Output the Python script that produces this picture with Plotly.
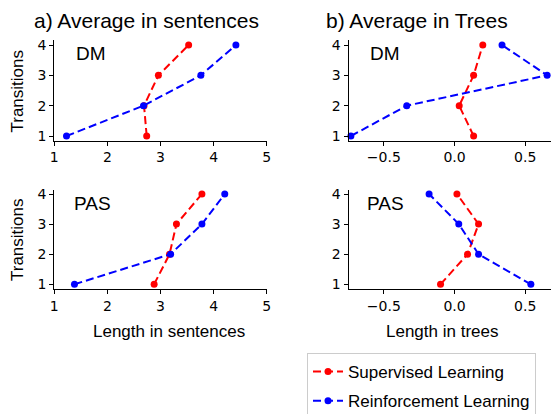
import plotly.graph_objects as go
from plotly.subplots import make_subplots

W, H = 559, 414
OFF = 8  # page body margin in the browser

transitions = [1, 2, 3, 4]
sent_dm_sup = [2.74, 2.69, 2.96, 3.53]
sent_dm_rl = [1.23, 2.68, 3.76, 4.42]
sent_pas_sup = [2.88, 3.17, 3.30, 3.78]
sent_pas_rl = [1.38, 3.19, 3.78, 4.21]
tree_dm_sup = [0.135, 0.033, 0.135, 0.20]
tree_dm_rl = [-0.733, -0.338, 0.655, 0.336]
tree_pas_sup = [-0.099, 0.092, 0.17, 0.017]
tree_pas_rl = [0.54, 0.17, 0.03, -0.18]

sent_ticks = [1, 2, 3, 4, 5]
sent_ticktext = ["1", "2", "3", "4", "5"]
tree_ticks = [-0.5, 0.0, 0.5]
tree_ticktext = ["\u22120.5", "0.0", "0.5"]
y_ticks = [1, 2, 3, 4]
y_ticktext = ["1", "2", "3", "4"]

series_names = ["Supervised Learning", "Reinforcement Learning"]
colors = ["#ff0000", "#0000ff"]

fig = make_subplots(rows=2, cols=2)

panels = [
    (1, 1, sent_dm_sup, sent_dm_rl),
    (1, 2, tree_dm_sup, tree_dm_rl),
    (2, 1, sent_pas_sup, sent_pas_rl),
    (2, 2, tree_pas_sup, tree_pas_rl),
]
first = True
for r, c, sup, rl in panels:
    for i, vals in enumerate([sup, rl]):
        fig.add_trace(go.Scatter(
            x=vals, y=transitions, mode="lines+markers",
            name=series_names[i], legendgroup=series_names[i],
            showlegend=first,
            line=dict(color=colors[i], width=2, dash="8px,4px"),
            marker=dict(color=colors[i], size=7),
            cliponaxis=False,
        ), row=r, col=c)
    first = False

def px_x(p):
    return (p - OFF) / W

def px_y(p):
    return 1 - (p - OFF) / H

xdom_a = [px_x(54.3), px_x(266.7)]
xdom_b = [px_x(348.5), px_x(559.5)]
ydom_top = [px_y(140.55), px_y(40.45)]
ydom_bot = [px_y(288.8), px_y(189.5)]

tickfont = dict(family="DejaVu Sans", size=14, color="black")
axis_common = dict(showline=True, linecolor="black", linewidth=1,
                   ticks="outside", ticklen=4, tickwidth=1, tickcolor="black",
                   showgrid=False, zeroline=False, tickfont=tickfont,
                   automargin=False)

for r, c in [(1, 1), (1, 2), (2, 1), (2, 2)]:
    xd = xdom_a if c == 1 else xdom_b
    yd = ydom_top if r == 1 else ydom_bot
    if c == 1:
        fig.update_xaxes(domain=xd, range=[1, 5], tickvals=sent_ticks,
                         ticktext=sent_ticktext, row=r, col=c, **axis_common)
    else:
        fig.update_xaxes(domain=xd, range=[-0.75, 0.7425], tickvals=tree_ticks,
                         ticktext=tree_ticktext, row=r, col=c, **axis_common)
    fig.update_yaxes(domain=yd, range=[0.85, 4.15], tickvals=y_ticks,
                     ticktext=y_ticktext, row=r, col=c, **axis_common)

txtfont = "Liberation Sans"
annotations = [
    dict(text="a) Average in sentences", x=px_x(146), y=px_y(20.5), size=21),
    dict(text="b) Average in Trees", x=px_x(417), y=px_y(20.5), size=21),
    dict(text="Length in sentences", x=px_x(168.5), y=px_y(331), size=17),
    dict(text="Length in trees", x=px_x(442), y=px_y(331), size=17),
]
ann = []
for a in annotations:
    ann.append(dict(text=a["text"], x=a["x"], y=a["y"], xref="paper", yref="paper",
                    xanchor="center", yanchor="middle", showarrow=False,
                    font=dict(family=txtfont, size=a["size"], color="black")))
for yc in [91.5, 240]:
    ann.append(dict(text="Transitions", x=px_x(17), y=px_y(yc), xref="paper", yref="paper",
                    xanchor="center", yanchor="middle", showarrow=False, textangle=-90,
                    font=dict(family=txtfont, size=17, color="black")))
for label, xl, yc in [("DM", 74, 53), ("DM", 368, 53), ("PAS", 72, 203), ("PAS", 365, 203)]:
    ann.append(dict(text=label, x=px_x(xl), y=px_y(yc), xref="paper", yref="paper",
                    xanchor="left", yanchor="middle", showarrow=False,
                    font=dict(family=txtfont, size=19, color="black")))

fig.update_layout(
    width=W, height=H,
    margin=dict(l=0, r=0, t=0, b=0),
    paper_bgcolor="white", plot_bgcolor="white",
    annotations=ann,
    legend=dict(x=px_x(307), y=px_y(353), xanchor="left", yanchor="top",
                bordercolor="#cccccc", borderwidth=1, bgcolor="white",
                font=dict(family=txtfont, size=17, color="black"),
                tracegroupgap=4, itemwidth=30),
)

fig.write_html("out.html")
